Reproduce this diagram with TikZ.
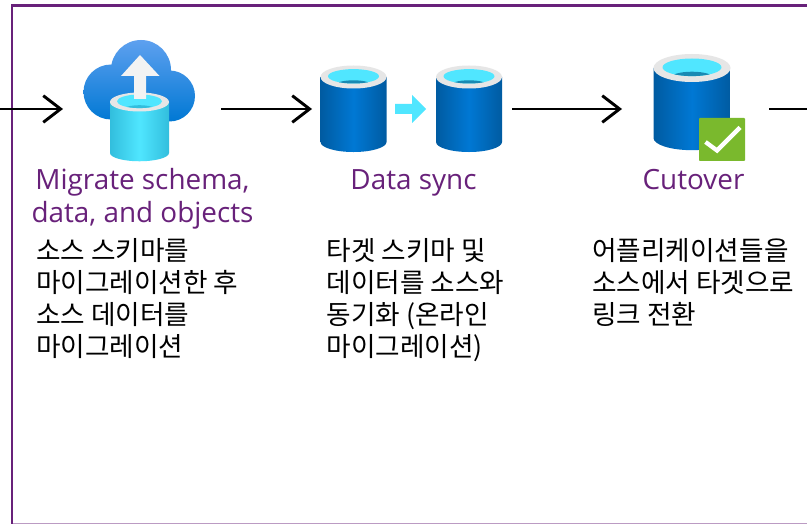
\documentclass[tikz,border=0pt]{standalone}
\usepackage{fontspec}
\usetikzlibrary{arrows.meta}
\setmainfont{Open Sans}
\newfontfamily\krfont{Noto Sans CJK KR}
\definecolor{framepurple}{HTML}{68217A}
\definecolor{dbedge}{HTML}{005BA1}
\definecolor{dbmid}{HTML}{0078D4}
\definecolor{cloudtop}{HTML}{5EA0EF}
\definecolor{ringgray}{HTML}{E6E6E6}
\definecolor{cyanlight}{HTML}{50E6FF}
\definecolor{cyanedge}{HTML}{32BEDD}
\definecolor{tealdark}{HTML}{198AB3}
\definecolor{okgreen}{HTML}{7AB92D}
\tikzset{
  flow/.style={line width=2.2pt,-{Straight Barb[length=13pt,width=20pt,line width=2.2pt]}},
  flowplain/.style={line width=2.2pt},
  titletext/.style={text=framepurple,font=\fontsize{20.9}{25}\selectfont,align=center,inner sep=0pt,anchor=base},
  bodytext/.style={font=\krfont\fontsize{20}{24}\selectfont,align=left,inner sep=0pt,anchor=north west},
}
\newcommand{\innerdark}{tealdark}
% #1 cx, #2 top centre y, #3 rx, #4 ry, #5 side bottom y, #6 edge colour, #7 mid colour, #8 inner rx, #9 inner ry
\newcommand{\dbicon}[9]{%
  \shade[left color=#6,right color=#6,middle color=#7]
    (#1-#3,#2) -- (#1-#3,#5) arc[start angle=180,end angle=360,x radius=#3,y radius=-#4*0.87] -- (#1+#3,#2) -- cycle;
  \fill[ringgray] (#1,#2) ellipse[x radius=#3,y radius=#4];
  \begin{scope}
    \clip (#1,#2-0.7) ellipse[x radius=#8,y radius=#9];
    \fill[cyanlight] (#1-#3,#2-#4) rectangle (#1+#3,#2+#4);
    \fill[\innerdark] (#1,#2+#9+1.5) ellipse[x radius=#8*0.75,y radius=#9*0.75];
  \end{scope}
}
\begin{document}
\begin{tikzpicture}[x=0.75pt,y=-0.75pt]
\useasboundingbox (0,0) rectangle (807,524);
\fill[white] (0,0) rectangle (807,524);
% frame
\draw[framepurple!45,line width=0.9pt] (12,523.3) -- (807,523.3);
\draw[framepurple,line width=2.1pt] (807,5.5) -- (12,5.5) -- (12,524);
% connectors
\coordinate (a0) at (0,109); \coordinate (a1) at (63,109);
\coordinate (b0) at (221,109); \coordinate (b1) at (312,109);
\coordinate (c0) at (512,109); \coordinate (c1) at (622,109);
\coordinate (d0) at (769,109); \coordinate (d1) at (807,109);
\draw[flow] (a0) -- (a1);
\draw[flow] (b0) -- (b1);
\draw[flow] (c0) -- (c1);
\draw[flowplain] (d0) -- (d1);
% cloud icon
\shade[top color=cloudtop,bottom color=dbmid]
  (141,70) circle[radius=30] (111,92) circle[radius=27.5] (169.5,96) circle[radius=25.5];
\renewcommand{\innerdark}{cyanedge}
\dbicon{139.5}{102}{29.5}{9.5}{153}{cyanedge}{cyanlight}{22.5}{6.8}
\renewcommand{\innerdark}{tealdark}
\fill[ringgray!50!white] (140,55) -- (159.5,76) -- (146,76) -- (146,99) -- (134,99) -- (134,76) -- (121,76) -- cycle;
% database icons
\dbicon{353.5}{77}{33}{11.5}{142}{dbedge}{dbmid}{25.5}{7.2}
\dbicon{469}{77}{33}{11.5}{142}{dbedge}{dbmid}{25.5}{7.2}
\fill[cyanlight] (395,104) -- (412,104) -- (412,95) -- (426,109) -- (412,123) -- (412,114) -- (395,114) -- cycle;
\dbicon{692}{68}{38.5}{14}{138}{dbedge}{dbmid}{29.5}{8.8}
\fill[okgreen,rounded corners=0.6pt] (699,118) rectangle (745,161);
\draw[white,line width=3.2pt] (705.5,142) -- (717,150.5) -- (740,127.5);
% titles
\node[titletext] (t1) at (142.5,190) {Migrate schema,};
\node[titletext] (t1b) at (142.5,223) {data, and objects};
\node[titletext] (t2) at (413.5,190) {Data sync};
\node[titletext] (t3) at (693.5,190) {Cutover};
% bodies
\node[bodytext] (b1t) at (36,238) {소스 스키마를\\마이그레이션한 후\\소스 데이터를\\마이그레이션};
\node[bodytext] (b2t) at (326.5,238) {타겟 스키마 및\\데이터를 소스와\\동기화 (온라인\\마이그레이션)};
\node[bodytext] (b3t) at (592,238) {어플리케이션들을\\소스에서 타겟으로\\링크 전환};
\end{tikzpicture}
\end{document}
